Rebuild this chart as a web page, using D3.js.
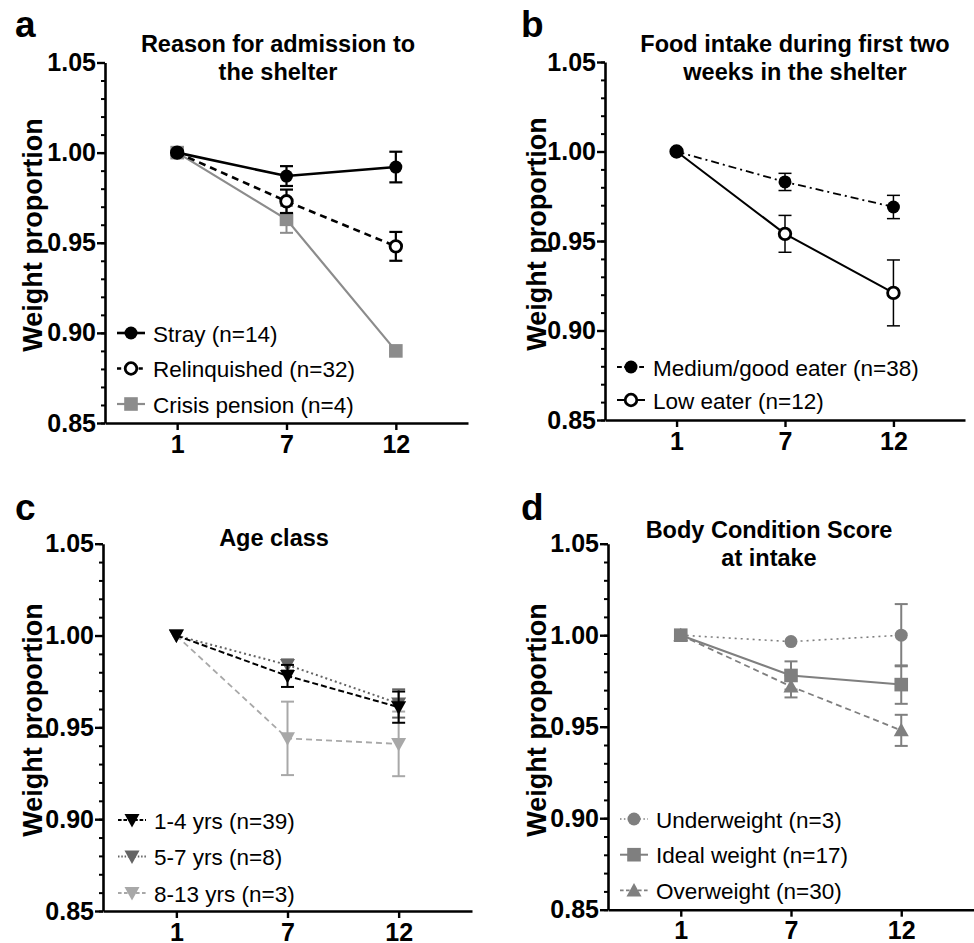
<!DOCTYPE html>
<html>
<head>
<meta charset="utf-8">
<script src="https://cdn.jsdelivr.net/npm/d3@7"></script>
<style>
  html, body { margin: 0; padding: 0; background: #fff; }
  svg { display: block; font-family: "Liberation Sans", Arial, sans-serif; }
</style>
</head>
<body>
<svg id="chart" width="974" height="943"></svg>
<script>
// Day of measurement in the shelter
const weeks = ["1", "7", "12"];
const yTicks = [0.85, 0.90, 0.95, 1.00, 1.05];

// a: reason for admission
const strayMean  = [1.000, 0.987, 0.992];
const strayErr   = [0, 0.0055, 0.0085];
const relinqMean = [1.000, 0.973, 0.948];
const relinqErr  = [0, 0.0065, 0.008];
const crisisMean = [1.000, 0.963, 0.890];
const crisisErr  = [0, 0.0075, 0];

// b: food intake
const mediumMean = [1.000, 0.983, 0.969];
const mediumErr  = [0, 0.0048, 0.0065];
const lowMean    = [1.000, 0.954, 0.921];
const lowErr     = [0, 0.0103, 0.0184];

// c: age class
const age14Mean  = [1.000, 0.978, 0.961];
const age14Err   = [0, 0.006, 0.0085];
const age57Mean  = [1.000, 0.984, 0.963];
const age57Err   = [0, 0.003, 0.0077];
const age813Mean = [1.000, 0.944, 0.941];
const age813Err  = [0, 0.020, 0.0176];

// d: body condition score
const underMean  = [1.000, 0.9965, 1.000];
const underErr   = [0, 0, 0.017];
const idealMean  = [1.000, 0.978, 0.973];
const idealErr   = [0, 0.0077, 0.0105];
const overMean   = [1.000, 0.972, 0.948];
const overErr    = [0, 0.006, 0.0085];

const svg = d3.select("#chart");

const panels = [
  {
    letter: "a", letterX: 15, letterY: 37,
    title: ["Reason for admission to", "the shelter"], titleX: 278, titleY: 52,
    left: 105, right: 468, top: 62.5, bottom: 423,
    labelX: 33, labelY: 235,
    legX: 117, legY: 333, legStep: 35.5,
    series: [
      { name: "Crisis pension (n=4)", mean: crisisMean, err: crisisErr, color: "#8c8c8c", dash: null, width: 2.2, shape: "square", fill: true, ew: 2 },
      { name: "Relinquished (n=32)", mean: relinqMean, err: relinqErr, color: "#000", dash: "7,5", width: 2.6, shape: "circle", fill: false, ew: 2.2 },
      { name: "Stray (n=14)", mean: strayMean, err: strayErr, color: "#000", dash: null, width: 2.6, shape: "circle", fill: true, ew: 2.2 }
    ],
    legendOrder: [2, 1, 0]
  },
  {
    letter: "b", letterX: 521, letterY: 37,
    title: ["Food intake during first two", "weeks in the shelter"], titleX: 795, titleY: 52,
    left: 605, right: 965, top: 62, bottom: 420,
    labelX: 537, labelY: 234,
    legX: 617, legY: 367, legStep: 33,
    series: [
      { name: "Low eater (n=12)", mean: lowMean, err: lowErr, color: "#000", dash: null, width: 2, shape: "circle", fill: false, ew: 1.5 },
      { name: "Medium/good eater (n=38)", mean: mediumMean, err: mediumErr, color: "#000", dash: "8,4,2,4", width: 1.8, shape: "circle", fill: true, ew: 1.5 }
    ],
    legendOrder: [1, 0]
  },
  {
    letter: "c", letterX: 15, letterY: 520,
    title: ["Age class"], titleX: 274, titleY: 546,
    left: 103, right: 472, top: 543.7, bottom: 911,
    labelX: 33, labelY: 720,
    legX: 118, legY: 820, legStep: 36.5,
    series: [
      { name: "8-13 yrs (n=3)", mean: age813Mean, err: age813Err, color: "#a8a8a8", dash: "6,4", width: 1.8, shape: "tri-down", fill: true, ew: 2 },
      { name: "5-7 yrs (n=8)", mean: age57Mean, err: age57Err, color: "#646464", dash: "2,3", width: 2, shape: "tri-down", fill: true, ew: 2 },
      { name: "1-4 yrs (n=39)", mean: age14Mean, err: age14Err, color: "#000", dash: "6,3", width: 2, shape: "tri-down", fill: true, ew: 2 }
    ],
    legendOrder: [2, 1, 0]
  },
  {
    letter: "d", letterX: 521, letterY: 520,
    title: ["Body Condition Score", "at intake"], titleX: 769, titleY: 538,
    left: 608, right: 974, top: 543.7, bottom: 909.7,
    labelX: 537, labelY: 720,
    legX: 620, legY: 819, legStep: 35.7,
    series: [
      { name: "Overweight (n=30)", mean: overMean, err: overErr, color: "#7f7f7f", dash: "6,4", width: 1.8, shape: "tri-up", fill: true, ew: 2 },
      { name: "Ideal weight (n=17)", mean: idealMean, err: idealErr, color: "#7f7f7f", dash: null, width: 2, shape: "square", fill: true, ew: 2 },
      { name: "Underweight (n=3)", mean: underMean, err: underErr, color: "#7f7f7f", dash: "2,4", width: 1.6, shape: "circle", fill: true, ew: 2 }
    ],
    legendOrder: [2, 1, 0]
  }
];

// draws one marker centred at (0,0) into selection g
function marker(g, s) {
  const fill = s.fill ? s.color : "#fff";
  if (s.shape === "circle") {
    g.append("circle").attr("r", s.fill ? 6.5 : 5.8)
      .attr("fill", fill).attr("stroke", s.color).attr("stroke-width", s.fill ? 0 : 2.8);
  } else if (s.shape === "square") {
    g.append("rect").attr("x", -6.8).attr("y", -6.8).attr("width", 13.6).attr("height", 13.6)
      .attr("fill", fill);
  } else if (s.shape === "tri-down") {
    g.append("path").attr("d", "M-7.5,-6L7.5,-6L0,7.5Z").attr("fill", fill);
  } else if (s.shape === "tri-up") {
    g.append("path").attr("d", "M-7.5,6L7.5,6L0,-7.5Z").attr("fill", fill);
  }
}

panels.forEach(p => {
  const g = svg.append("g");

  const x = d3.scalePoint().domain(weeks).range([p.left, p.right]).padding(0.66);
  const y = d3.scaleLinear().domain([0.85, 1.05]).range([p.bottom, p.top]);

  // minor y ticks every 0.01
  g.append("g").attr("transform", `translate(${p.left},0)`)
    .call(d3.axisLeft(y).tickValues(d3.range(0, 21).map(i => 0.85 + i * 0.01)).tickSize(4).tickFormat(""))
    .call(a => a.selectAll("line").attr("stroke", "#000").attr("stroke-width", 2))
    .call(a => a.select(".domain").remove());

  // major y axis
  g.append("g").attr("transform", `translate(${p.left},0)`)
    .call(d3.axisLeft(y).tickValues(yTicks).tickSize(8).tickSizeOuter(0).tickPadding(1).tickFormat(d3.format(".2f")))
    .call(a => a.select(".domain").attr("stroke", "#000").attr("stroke-width", 2.6))
    .call(a => a.selectAll("line").attr("stroke", "#000").attr("stroke-width", 2.4))
    .call(a => a.selectAll("text").attr("font-size", 25).attr("font-weight", "bold").attr("fill", "#000")
      .attr("font-family", "'Liberation Sans', Arial, sans-serif"));

  // x axis
  g.append("g").attr("transform", `translate(0,${p.bottom})`)
    .call(d3.axisBottom(x).tickSize(7).tickSizeOuter(0).tickPadding(5))
    .call(a => a.select(".domain").attr("stroke", "#000").attr("stroke-width", 2.6))
    .call(a => a.selectAll("line").attr("stroke", "#000").attr("stroke-width", 2.4))
    .call(a => a.selectAll("text").attr("font-size", 25).attr("font-weight", "bold").attr("fill", "#000")
      .attr("font-family", "'Liberation Sans', Arial, sans-serif"));

  // axis title
  g.append("text")
    .attr("transform", `translate(${p.labelX},${p.labelY}) rotate(-90)`)
    .attr("text-anchor", "middle").attr("dominant-baseline", "central")
    .attr("font-size", 27).attr("font-weight", "bold").text("Weight proportion");

  // panel title
  p.title.forEach((t, i) => {
    g.append("text").attr("x", p.titleX).attr("y", p.titleY + i * 28)
      .attr("text-anchor", "middle").attr("font-size", 23.5).attr("font-weight", "bold").text(t);
  });

  // panel letter
  g.append("text").attr("x", p.letterX).attr("y", p.letterY)
    .attr("font-size", 37).attr("font-weight", "bold").text(p.letter);

  const line = d3.line().x((d, i) => x(weeks[i])).y(d => y(d));

  p.series.forEach(s => {
    const sg = g.append("g");
    sg.append("path").datum(s.mean).attr("d", line)
      .attr("fill", "none").attr("stroke", s.color).attr("stroke-width", s.width)
      .attr("stroke-dasharray", s.dash);

    s.mean.forEach((m, i) => {
      const e = s.err[i];
      if (e > 0) {
        const cx = x(weeks[i]);
        const eb = sg.append("g").attr("stroke", s.color).attr("stroke-width", s.ew);
        eb.append("line").attr("x1", cx).attr("x2", cx).attr("y1", y(m - e)).attr("y2", y(m + e));
        [m - e, m + e].forEach(v => {
          eb.append("line").attr("x1", cx - 6.5).attr("x2", cx + 6.5).attr("y1", y(v)).attr("y2", y(v));
        });
      }
    });

    s.mean.forEach((m, i) => {
      marker(sg.append("g").attr("transform", `translate(${x(weeks[i])},${y(m)})`), s);
    });
  });

  // legend
  p.legendOrder.forEach((si, k) => {
    const s = p.series[si];
    const ly = p.legY + k * p.legStep;
    const lg = g.append("g").attr("transform", `translate(${p.legX},${ly})`);
    lg.append("line").attr("x1", 0).attr("x2", 28).attr("y1", 0).attr("y2", 0)
      .attr("stroke", s.color).attr("stroke-width", s.width).attr("stroke-dasharray", s.dash ? s.dash.split(",").map(v => Math.max(1.5, v * 0.6)).join(",") : null);
    marker(lg.append("g").attr("transform", "translate(14,0)"), s);
    lg.append("text").attr("x", 36).attr("y", 1).attr("dominant-baseline", "central")
      .attr("font-size", 22.5).attr("fill", "#000").text(s.name);
  });
});
</script>
</body>
</html>
